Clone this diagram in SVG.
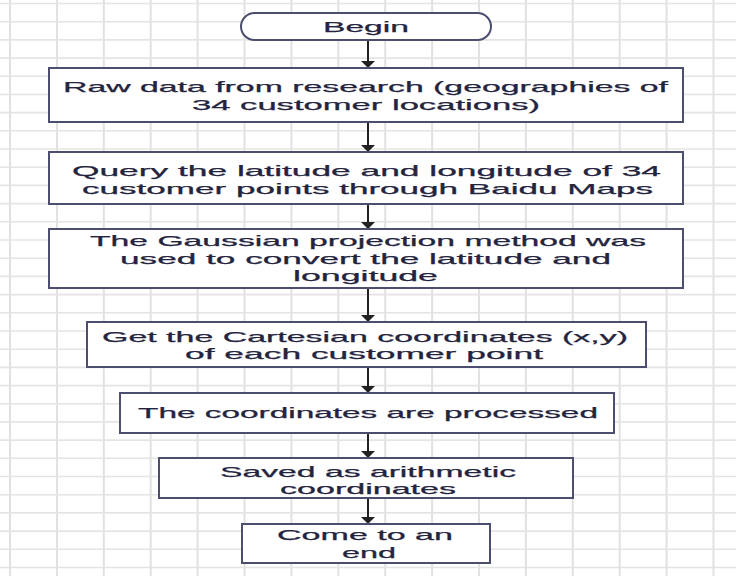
<svg xmlns="http://www.w3.org/2000/svg" width="736" height="576" viewBox="0 0 736 576">
<style>
.bg{fill:#ffffff}
.gv{stroke:#e1e1e1;stroke-width:2}
.gh{stroke:#e4e4e4;stroke-width:1.6}
.box{fill:#ffffff;stroke:#4b4e6e;stroke-width:2}
.t{font-family:"Liberation Sans",Arial,sans-serif;font-size:15px;fill:#24243e;text-anchor:middle;stroke:#24243e;stroke-width:0.25}
.conn line{stroke:#222222;stroke-width:2}
.conn polygon{fill:#222222}
</style>
<rect class="bg" x="0" y="0" width="736" height="576"/>
<g id="grid">
<line class="gv" x1="10" y1="0" x2="10" y2="576"/>
<line class="gv" x1="57" y1="0" x2="57" y2="576"/>
<line class="gv" x1="103.8" y1="0" x2="103.8" y2="576"/>
<line class="gv" x1="150.7" y1="0" x2="150.7" y2="576"/>
<line class="gv" x1="197.6" y1="0" x2="197.6" y2="576"/>
<line class="gv" x1="244.5" y1="0" x2="244.5" y2="576"/>
<line class="gv" x1="291.4" y1="0" x2="291.4" y2="576"/>
<line class="gv" x1="338.3" y1="0" x2="338.3" y2="576"/>
<line class="gv" x1="385.2" y1="0" x2="385.2" y2="576"/>
<line class="gv" x1="432.1" y1="0" x2="432.1" y2="576"/>
<line class="gv" x1="479" y1="0" x2="479" y2="576"/>
<line class="gv" x1="525.9" y1="0" x2="525.9" y2="576"/>
<line class="gv" x1="572.8" y1="0" x2="572.8" y2="576"/>
<line class="gv" x1="619.7" y1="0" x2="619.7" y2="576"/>
<line class="gv" x1="666.6" y1="0" x2="666.6" y2="576"/>
<line class="gv" x1="713.5" y1="0" x2="713.5" y2="576"/>
<line class="gh" x1="0" y1="3.5" x2="736" y2="3.5"/>
<line class="gh" x1="0" y1="21.7" x2="736" y2="21.7"/>
<line class="gh" x1="0" y1="39.9" x2="736" y2="39.9"/>
<line class="gh" x1="0" y1="58.1" x2="736" y2="58.1"/>
<line class="gh" x1="0" y1="76.3" x2="736" y2="76.3"/>
<line class="gh" x1="0" y1="94.5" x2="736" y2="94.5"/>
<line class="gh" x1="0" y1="112.6" x2="736" y2="112.6"/>
<line class="gh" x1="0" y1="130.8" x2="736" y2="130.8"/>
<line class="gh" x1="0" y1="149" x2="736" y2="149"/>
<line class="gh" x1="0" y1="167.2" x2="736" y2="167.2"/>
<line class="gh" x1="0" y1="185.4" x2="736" y2="185.4"/>
<line class="gh" x1="0" y1="203.6" x2="736" y2="203.6"/>
<line class="gh" x1="0" y1="221.8" x2="736" y2="221.8"/>
<line class="gh" x1="0" y1="240" x2="736" y2="240"/>
<line class="gh" x1="0" y1="258.2" x2="736" y2="258.2"/>
<line class="gh" x1="0" y1="276.4" x2="736" y2="276.4"/>
<line class="gh" x1="0" y1="294.6" x2="736" y2="294.6"/>
<line class="gh" x1="0" y1="312.8" x2="736" y2="312.8"/>
<line class="gh" x1="0" y1="331" x2="736" y2="331"/>
<line class="gh" x1="0" y1="349.2" x2="736" y2="349.2"/>
<line class="gh" x1="0" y1="367.4" x2="736" y2="367.4"/>
<line class="gh" x1="0" y1="385.6" x2="736" y2="385.6"/>
<line class="gh" x1="0" y1="403.7" x2="736" y2="403.7"/>
<line class="gh" x1="0" y1="421.9" x2="736" y2="421.9"/>
<line class="gh" x1="0" y1="440.1" x2="736" y2="440.1"/>
<line class="gh" x1="0" y1="458.3" x2="736" y2="458.3"/>
<line class="gh" x1="0" y1="476.5" x2="736" y2="476.5"/>
<line class="gh" x1="0" y1="494.7" x2="736" y2="494.7"/>
<line class="gh" x1="0" y1="512.9" x2="736" y2="512.9"/>
<line class="gh" x1="0" y1="531.1" x2="736" y2="531.1"/>
<line class="gh" x1="0" y1="549.3" x2="736" y2="549.3"/>
<line class="gh" x1="0" y1="567.5" x2="736" y2="567.5"/>
</g>
<g id="connectors" class="conn">
<line x1="368" y1="40" x2="368" y2="62"/><polygon points="361,61 375,61 368,68"/>
<line x1="368" y1="122" x2="368" y2="146"/><polygon points="361,145 375,145 368,152"/>
<line x1="368" y1="204" x2="368" y2="223"/><polygon points="361,222 375,222 368,229"/>
<line x1="368" y1="288" x2="368" y2="316"/><polygon points="361,315 375,315 368,322"/>
<line x1="368" y1="367" x2="368" y2="387"/><polygon points="361,386 375,386 368,393"/>
<line x1="368" y1="433" x2="368" y2="452"/><polygon points="361,451 375,451 368,458"/>
<line x1="368" y1="498" x2="368" y2="518"/><polygon points="361,517 375,517 368,524"/>
</g>
<g id="begin">
<rect class="box" x="241" y="13" width="250" height="27" rx="13.5" ry="13.5"/>
<text class="t" x="366" y="31.5" textLength="86" lengthAdjust="spacingAndGlyphs">Begin</text>
</g>
<g id="raw-data">
<rect class="box" x="49" y="68" width="634" height="54"/>
<text class="t" x="365.5" y="92" textLength="605" lengthAdjust="spacingAndGlyphs">Raw data from research (geographies of</text>
<text class="t" x="366" y="110" textLength="348" lengthAdjust="spacingAndGlyphs">34 customer locations)</text>
</g>
<g id="query">
<rect class="box" x="49" y="152" width="634" height="52"/>
<text class="t" x="366.5" y="176" textLength="589" lengthAdjust="spacingAndGlyphs">Query the latitude and longitude of 34</text>
<text class="t" x="367.5" y="193.5" textLength="571" lengthAdjust="spacingAndGlyphs">customer points through Baidu Maps</text>
</g>
<g id="gaussian">
<rect class="box" x="49" y="229" width="634" height="59"/>
<text class="t" x="368" y="246" textLength="556" lengthAdjust="spacingAndGlyphs">The Gaussian projection method was</text>
<text class="t" x="365.5" y="263.5" textLength="491" lengthAdjust="spacingAndGlyphs">used to convert the latitude and</text>
<text class="t" x="365.5" y="281" textLength="145" lengthAdjust="spacingAndGlyphs">longitude</text>
</g>
<g id="cartesian">
<rect class="box" x="87" y="322" width="559" height="45"/>
<text class="t" x="365" y="341.5" textLength="526" lengthAdjust="spacingAndGlyphs">Get the Cartesian coordinates (x,y)</text>
<text class="t" x="364" y="359" textLength="358" lengthAdjust="spacingAndGlyphs">of each customer point</text>
</g>
<g id="processed">
<rect class="box" x="120" y="393" width="494" height="40"/>
<text class="t" x="368" y="418" textLength="460" lengthAdjust="spacingAndGlyphs">The coordinates are processed</text>
</g>
<g id="saved">
<rect class="box" x="159" y="458" width="414" height="40"/>
<text class="t" x="368" y="476.5" textLength="296" lengthAdjust="spacingAndGlyphs">Saved as arithmetic</text>
<text class="t" x="368" y="494" textLength="176" lengthAdjust="spacingAndGlyphs">coordinates</text>
</g>
<g id="end">
<rect class="box" x="242" y="524" width="248" height="39"/>
<text class="t" x="365" y="540" textLength="176" lengthAdjust="spacingAndGlyphs">Come to an</text>
<text class="t" x="369" y="558" textLength="54" lengthAdjust="spacingAndGlyphs">end</text>
</g>
</svg>
